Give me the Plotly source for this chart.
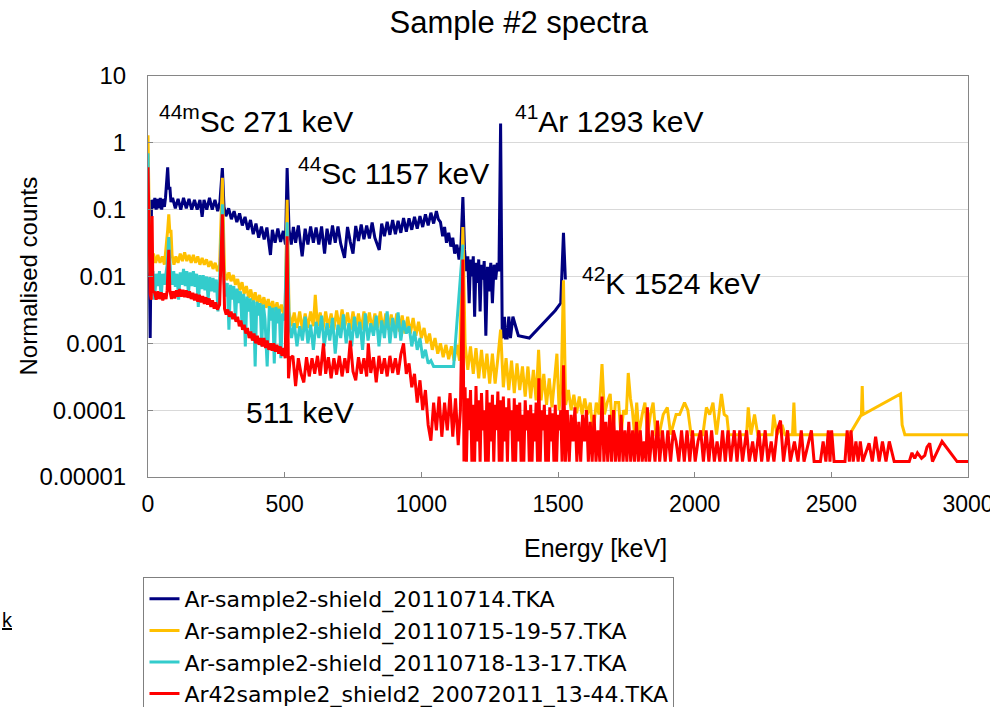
import plotly.graph_objects as go

# ---------------- data ----------------
series_names = [
    "Ar-sample2-shield_20110714.TKA",
    "Ar-sample2-shield_20110715-19-57.TKA",
    "Ar-sample2-shield_20110718-13-17.TKA",
    "Ar42sample2_shield2_20072011_13-44.TKA",
]
series_colors = ["#000080", "#FFC000", "#33CCCC", "#FF0000"]

navy_kev = [
    3, 8, 13, 20, 25, 30, 35, 40, 45, 50,
    55, 60, 64, 68, 72, 76, 80, 84, 90, 100,
    110, 120, 130, 140, 150, 160, 170, 180, 190, 198,
    205, 215, 225, 235, 245, 255, 263, 272, 278, 285,
    295, 305, 315, 325, 335, 345, 355, 365, 375, 385,
    395, 405, 415, 425, 435, 448, 455, 465, 475, 485,
    495, 503, 509, 516, 524, 532, 540, 550, 564, 575,
    585, 595, 605, 615, 625, 635, 646, 655, 665, 675,
    685, 695, 705, 719, 730, 740, 750, 760, 770, 780,
    790, 800, 810, 820, 830, 846, 855, 865, 875, 885,
    895, 905, 915, 925, 935, 945, 955, 965, 975, 985,
    995, 1005, 1015, 1025, 1035, 1045, 1055, 1062, 1070, 1078,
    1085, 1092, 1100, 1108, 1115, 1122, 1130, 1138, 1145, 1152,
    1158, 1164, 1170, 1175, 1180, 1185, 1190, 1195, 1200, 1205,
    1210, 1215, 1220, 1225, 1230, 1236, 1242, 1248, 1254, 1260,
    1266, 1272, 1278, 1284, 1290, 1296, 1300, 1304, 1308, 1314,
    1320, 1326, 1335, 1345, 1355, 1395, 1430, 1460, 1490, 1510,
    1520, 1527,
]
navy_val = [
    0.1, 0.0012, 0.14, 0.105, 0.15, 0.1, 0.145, 0.105, 0.15, 0.1,
    0.145, 0.11, 0.15, 0.3, 0.43, 0.2, 0.22, 0.13, 0.15, 0.105,
    0.145, 0.1, 0.15, 0.105, 0.145, 0.1, 0.14, 0.1, 0.14, 0.078,
    0.14, 0.1, 0.15, 0.1, 0.14, 0.095, 0.13, 0.42, 0.11, 0.08,
    0.105, 0.072, 0.095, 0.065, 0.088, 0.058, 0.078, 0.05, 0.07, 0.043,
    0.062, 0.038, 0.056, 0.036, 0.054, 0.021, 0.05, 0.032, 0.052, 0.033,
    0.048, 0.03, 0.42, 0.05, 0.03, 0.055, 0.032, 0.058, 0.02, 0.052,
    0.03, 0.056, 0.032, 0.054, 0.03, 0.056, 0.022, 0.052, 0.03, 0.058,
    0.032, 0.056, 0.031, 0.019, 0.055, 0.033, 0.022, 0.057, 0.034, 0.06,
    0.036, 0.058, 0.037, 0.064, 0.038, 0.025, 0.062, 0.04, 0.066, 0.042,
    0.07, 0.043, 0.068, 0.045, 0.075, 0.047, 0.074, 0.05, 0.078, 0.052,
    0.08, 0.055, 0.085, 0.058, 0.09, 0.062, 0.095, 0.072, 0.065, 0.04,
    0.055, 0.032, 0.045, 0.028, 0.038, 0.022, 0.03, 0.018, 0.03, 0.155,
    0.025, 0.012, 0.02, 0.004, 0.018, 0.01, 0.02, 0.0025, 0.016, 0.008,
    0.018, 0.003, 0.015, 0.009, 0.017, 0.0013, 0.014, 0.006, 0.016, 0.004,
    0.015, 0.009, 0.016, 0.012, 1.95, 0.0013, 0.0012, 0.0025, 0.0012, 0.0012,
    0.0025, 0.0012, 0.0025, 0.0018, 0.0013, 0.0012, 0.0017, 0.0023, 0.0031, 0.004,
    0.045, 0.009,
]

yellow_kev = [
    0, 6, 12, 20, 28, 36, 44, 52, 60, 68,
    72, 76, 80, 84, 88, 95, 102, 110, 118, 126,
    134, 142, 150, 158, 166, 174, 182, 190, 198, 206,
    214, 222, 230, 238, 246, 254, 262, 272, 280, 288,
    296, 304, 312, 320, 328, 336, 344, 352, 360, 368,
    376, 384, 392, 400, 408, 416, 424, 432, 440, 448,
    456, 464, 472, 480, 488, 496, 502, 509, 516, 525,
    535, 545, 555, 565, 575, 585, 595, 605, 612, 620,
    630, 640, 650, 660, 670, 680, 690, 700, 710, 720,
    730, 740, 750, 760, 770, 780, 790, 800, 810, 820,
    830, 840, 850, 860, 870, 880, 890, 900, 910, 920,
    930, 940, 950, 960, 970, 980, 990, 1000, 1010, 1020,
    1030, 1040, 1050, 1060, 1070, 1080, 1090, 1100, 1110, 1120,
    1130, 1140, 1152, 1160, 1170, 1180, 1190, 1200, 1210, 1220,
    1230, 1240, 1250, 1260, 1270, 1280, 1290, 1300, 1310, 1320,
    1330, 1340, 1350, 1360, 1370, 1380, 1390, 1400, 1410, 1420,
    1429, 1438, 1448, 1458, 1468, 1478, 1488, 1496, 1504, 1512,
    1520, 1528, 1538, 1548, 1558, 1568, 1578, 1588, 1598, 1608,
    1618, 1628, 1640, 1650, 1661, 1670, 1680, 1691, 1700, 1710,
    1722, 1730, 1740, 1750, 1757, 1765, 1772, 1780, 1788, 1796,
    1808, 1818, 1828, 1838, 1848, 1858, 1870, 1885, 1900, 1912,
    1932, 1945, 1963, 1975, 1987, 2010, 2030, 2043, 2055, 2067,
    2080, 2098, 2108, 2118, 2125, 2190, 2196, 2206, 2219, 2231,
    2283, 2289, 2301, 2320, 2330, 2358, 2363, 2368, 2566, 2610,
    2613, 2616, 2753, 2759, 2769, 3000,
]
yellow_val = [
    1.3, 0.03, 0.019, 0.022, 0.016, 0.021, 0.016, 0.02, 0.015, 0.03,
    0.05, 0.085, 0.045, 0.05, 0.021, 0.015, 0.02, 0.016, 0.022, 0.017,
    0.023, 0.017, 0.021, 0.016, 0.021, 0.016, 0.02, 0.015, 0.019, 0.015,
    0.018, 0.014, 0.017, 0.013, 0.016, 0.012, 0.015, 0.3, 0.012, 0.0088,
    0.0115, 0.0085, 0.0105, 0.0075, 0.0092, 0.0062, 0.0082, 0.0055, 0.0072, 0.0048,
    0.0064, 0.0043, 0.0058, 0.004, 0.0053, 0.0036, 0.0049, 0.0034, 0.0046, 0.0031,
    0.0043, 0.003, 0.0041, 0.0028, 0.0038, 0.0027, 0.0035, 0.14, 0.003, 0.0018,
    0.0029, 0.0017, 0.003, 0.0016, 0.0028, 0.0017, 0.003, 0.0018, 0.0053, 0.0018,
    0.0029, 0.0016, 0.003, 0.0017, 0.0028, 0.0016, 0.0031, 0.0017, 0.0032, 0.0018,
    0.0029, 0.0016, 0.003, 0.0017, 0.0028, 0.0016, 0.003, 0.0018, 0.0029, 0.0016,
    0.0028, 0.0017, 0.003, 0.0016, 0.0028, 0.0016, 0.0027, 0.0015, 0.0028, 0.0015,
    0.0026, 0.0014, 0.0025, 0.0014, 0.0024, 0.0013, 0.0021, 0.0012, 0.0017, 0.001,
    0.0014, 0.0008, 0.0012, 0.0007, 0.001, 0.00062, 0.00095, 0.00058, 0.0009, 0.00055,
    0.00095, 0.00055, 0.055, 0.001, 0.0004, 0.0009, 0.00035, 0.00085, 0.0003, 0.0008,
    0.0003, 0.0007, 0.00025, 0.0007, 0.00025, 0.0006, 0.0016, 0.00022, 0.0006, 0.0002,
    0.00055, 0.00018, 0.0005, 0.0002, 0.00045, 0.00016, 0.00045, 0.00015, 0.0004, 0.00014,
    0.0008, 0.00014, 0.00035, 0.00012, 0.0003, 0.00011, 0.00028, 0.0007, 0.0001, 0.00025,
    0.0088, 0.00012, 0.0002, 0.0001, 0.00017, 0.00009, 0.00016, 0.000086, 0.00015, 0.000086,
    0.00013, 0.000043, 0.00013, 0.000086, 0.00049, 0.000086, 0.00013, 0.000175, 0.000043, 0.00013,
    0.00013, 0.000043, 0.0001, 0.000086, 0.00036, 0.00015, 0.0001, 0.000043, 0.00013, 0.000043,
    0.000086, 0.00013, 0.000043, 0.000086, 0.00013, 0.000043, 0.000043, 0.000086, 0.00011, 0.000043,
    0.000086, 0.000086, 0.00013, 0.0001, 0.000043, 0.000043, 0.000043, 0.00011, 0.000086, 0.00013,
    0.000043, 0.000175, 0.000086, 0.00008, 0.000043, 0.000043, 0.00011, 0.000043, 0.000086, 0.000043,
    0.000043, 0.000086, 0.000043, 0.00006, 0.000043, 0.000043, 0.00013, 0.000043, 0.000043, 0.000086,
    0.00023, 0.000086, 0.000175, 0.00006, 0.000043, 0.000043,
]

cyan_kev = [
    0, 6, 12, 18, 24, 30, 36, 42, 48, 54,
    60, 66, 70, 76, 82, 88, 94, 100, 106, 112,
    118, 124, 130, 136, 142, 148, 154, 160, 166, 172,
    178, 184, 190, 196, 202, 208, 214, 220, 226, 232,
    238, 244, 250, 256, 262, 272, 278, 284, 290, 296,
    302, 308, 314, 320, 326, 332, 338, 344, 350, 356,
    362, 368, 374, 380, 386, 392, 398, 404, 410, 416,
    422, 428, 436, 444, 450, 456, 462, 468, 474, 480,
    486, 492, 500, 509, 516, 525, 535, 545, 555, 565,
    575, 585, 595, 605, 615, 625, 635, 645, 655, 665,
    675, 685, 695, 705, 715, 725, 735, 745, 755, 765,
    775, 785, 795, 805, 815, 825, 835, 845, 855, 865,
    875, 885, 895, 905, 915, 925, 935, 945, 955, 965,
    975, 985, 995, 1005, 1015, 1025, 1035, 1045, 1118, 1152,
]
cyan_val = [
    0.7, 0.012, 0.0075, 0.012, 0.0045, 0.011, 0.0072, 0.012, 0.0048, 0.011,
    0.0075, 0.012, 0.015, 0.039, 0.012, 0.0075, 0.012, 0.007, 0.011, 0.0045,
    0.0115, 0.0075, 0.013, 0.0072, 0.012, 0.0055, 0.0115, 0.0072, 0.012, 0.007,
    0.011, 0.0035, 0.0105, 0.0065, 0.0105, 0.0062, 0.01, 0.0045, 0.0098, 0.006,
    0.0095, 0.0058, 0.009, 0.003, 0.0085, 0.12, 0.0085, 0.005, 0.008, 0.0016,
    0.0075, 0.0045, 0.0072, 0.0022, 0.0066, 0.004, 0.006, 0.0018, 0.0055, 0.0009,
    0.005, 0.003, 0.0047, 0.0012, 0.0044, 0.00045, 0.0042, 0.0026, 0.004, 0.0009,
    0.0038, 0.0023, 0.00045, 0.0036, 0.0022, 0.0034, 0.0005, 0.0035, 0.002, 0.0033,
    0.0006, 0.0028, 0.0022, 0.065, 0.0022, 0.0012, 0.002, 0.0009, 0.0018, 0.0011,
    0.0025, 0.001, 0.0019, 0.0008, 0.0021, 0.0012, 0.0026, 0.0009, 0.002, 0.0011,
    0.0024, 0.0007, 0.0019, 0.0012, 0.0027, 0.001, 0.002, 0.0009, 0.0025, 0.0012,
    0.0021, 0.0008, 0.0028, 0.0011, 0.002, 0.0013, 0.0026, 0.0009, 0.0022, 0.0012,
    0.003, 0.001, 0.0024, 0.0012, 0.0029, 0.0011, 0.0022, 0.0014, 0.0018, 0.0009,
    0.0015, 0.0008, 0.0012, 0.0006, 0.0008, 0.0005, 0.00055, 0.00045, 0.00045, 0.03,
]

red_kev = [
    0, 4, 8, 12, 15, 18, 24, 30, 36, 42,
    48, 54, 60, 66, 70, 76, 80, 86, 92, 98,
    104, 110, 116, 122, 128, 134, 140, 146, 152, 158,
    164, 170, 176, 182, 188, 194, 200, 206, 212, 218,
    224, 230, 236, 242, 248, 254, 262, 272, 280, 286,
    292, 298, 304, 310, 316, 322, 328, 334, 340, 346,
    352, 358, 364, 370, 376, 382, 388, 394, 400, 406,
    412, 418, 424, 430, 436, 442, 448, 454, 460, 466,
    472, 478, 484, 490, 496, 502, 509, 514, 520, 530,
    540, 550, 560, 570, 580, 590, 600, 610, 620, 630,
    642, 650, 660, 670, 680, 690, 700, 710, 720, 730,
    740, 750, 760, 770, 780, 790, 800, 806, 815, 825,
    835, 845, 855, 865, 875, 885, 895, 905, 915, 925,
    935, 945, 955, 965, 975, 985, 995, 1005, 1015, 1025,
    1035, 1045, 1055, 1065, 1075, 1085, 1095, 1105, 1115, 1125,
    1135, 1143, 1152, 1156, 1160, 1165, 1170, 1175, 1180, 1185,
    1190, 1195, 1200, 1205, 1210, 1215, 1220, 1225, 1230, 1235,
    1240, 1245, 1250, 1255, 1260, 1265, 1270, 1275, 1280, 1285,
    1290, 1295, 1300, 1305, 1310, 1315, 1320, 1325, 1330, 1335,
    1340, 1345, 1350, 1355, 1360, 1365, 1370, 1375, 1380, 1385,
    1390, 1395, 1400, 1405, 1410, 1415, 1420, 1425, 1430, 1435,
    1440, 1445, 1450, 1455, 1460, 1465, 1470, 1475, 1480, 1485,
    1490, 1495, 1500, 1505, 1510, 1515, 1520, 1527, 1534, 1541,
    1548, 1555, 1562, 1569, 1576, 1583, 1590, 1597, 1604, 1611,
    1618, 1625, 1632, 1639, 1646, 1653, 1661, 1668, 1675, 1682,
    1689, 1696, 1703, 1710, 1717, 1724, 1731, 1738, 1745, 1752,
    1759, 1766, 1773, 1780, 1787, 1794, 1801, 1808, 1815, 1822,
    1827, 1835, 1845, 1855, 1864, 1872, 1882, 1892, 1902, 1912,
    1922, 1932, 1942, 1952, 1962, 1972, 1982, 1992, 2002, 2012,
    2022, 2032, 2042, 2052, 2062, 2072, 2082, 2092, 2102, 2112,
    2122, 2132, 2145, 2155, 2165, 2175, 2190, 2200, 2212, 2222,
    2235, 2245, 2258, 2268, 2280, 2290, 2302, 2314, 2325, 2340,
    2350, 2365, 2378, 2390, 2400, 2427, 2437, 2460, 2470, 2480,
    2489, 2495, 2501, 2510, 2550, 2558, 2566, 2572, 2580, 2590,
    2598, 2606, 2615, 2638, 2650, 2662, 2675, 2687, 2700, 2712,
    2730, 2785, 2795, 2805, 2815, 2830, 2842, 2850, 2860, 2870,
    2905, 2960, 3000,
]
red_val = [
    0.43, 0.07, 0.0055, 0.0045, 0.08, 0.006, 0.0058, 0.0045, 0.006, 0.0046,
    0.0058, 0.0044, 0.0056, 0.0046, 0.0062, 0.025, 0.0062, 0.0046, 0.006, 0.0047,
    0.0062, 0.005, 0.0065, 0.005, 0.0063, 0.0049, 0.0062, 0.0048, 0.006, 0.0046,
    0.0057, 0.0044, 0.0055, 0.0042, 0.0053, 0.0041, 0.0051, 0.0039, 0.0049, 0.0038,
    0.0047, 0.0035, 0.0044, 0.0033, 0.0041, 0.0032, 0.0038, 0.085, 0.0033, 0.0027,
    0.0032, 0.0025, 0.003, 0.0023, 0.0028, 0.0021, 0.0025, 0.0018, 0.0022, 0.0016,
    0.0019, 0.0014, 0.0017, 0.0012, 0.0015, 0.0011, 0.0014, 0.001, 0.0013, 0.00095,
    0.0012, 0.0009, 0.0012, 0.00085, 0.0011, 0.0008, 0.001, 0.00078, 0.001, 0.00075,
    0.00095, 0.0007, 0.0009, 0.00065, 0.00085, 0.0006, 0.04, 0.0003, 0.0006, 0.00065,
    0.00023, 0.0006, 0.00035, 0.00026, 0.00062, 0.00032, 0.0006, 0.00035, 0.00065, 0.00033,
    0.001, 0.00035, 0.00062, 0.0003, 0.0006, 0.00034, 0.00065, 0.00032, 0.0006, 0.00036,
    0.0011, 0.00038, 0.00028, 0.00062, 0.00035, 0.0006, 0.00032, 0.001, 0.00036, 0.00062,
    0.00026, 0.00065, 0.00035, 0.0006, 0.00032, 0.00065, 0.00036, 0.0006, 0.00034, 0.00068,
    0.001, 0.00035, 0.0005, 0.00022, 0.00035, 0.00013, 0.00028, 0.0001, 0.0002, 0.00006,
    0.000035, 0.00013, 0.00005, 0.00016, 0.00004, 0.00013, 0.00005, 0.00018, 0.00004, 0.00015,
    0.00003, 0.0001, 0.018, 0.000017, 0.00022, 0.000017, 0.00015, 0.00005, 0.0002, 0.000017,
    0.00012, 0.000017, 0.00023, 0.000034, 0.00014, 0.000017, 0.00018, 0.00005, 0.0001, 0.000017,
    0.0002, 0.000017, 0.00013, 0.000034, 0.00017, 0.000017, 0.00012, 0.00005, 0.00019, 0.000017,
    0.00014, 0.000017, 0.00016, 0.000034, 0.00011, 0.000017, 0.00015, 0.00005, 0.0001, 0.000017,
    0.00015, 0.000017, 0.00012, 0.000034, 0.00013, 0.000017, 0.000085, 0.000017, 0.00014, 0.00005,
    0.0001, 0.000017, 0.00012, 0.000017, 0.00009, 0.000034, 0.00013, 0.000017, 0.0003, 0.000017,
    0.0001, 0.00005, 0.00012, 0.000017, 0.000085, 0.000017, 0.00011, 0.000034, 0.00009, 0.000017,
    0.00012, 0.000017, 0.000085, 0.00005, 0.0001, 0.000017, 0.00047, 0.000017, 0.0001, 0.000017,
    0.000085, 0.000034, 0.00011, 0.000017, 0.000067, 0.000017, 0.000085, 0.000034, 0.0001, 0.000017,
    0.000067, 0.000017, 0.000085, 0.000017, 0.00005, 0.000017, 0.00016, 0.000017, 0.000067, 0.000017,
    0.000085, 0.000017, 0.0001, 0.000017, 0.00005, 0.000017, 0.000085, 0.000017, 0.00005, 0.000017,
    0.000067, 0.000017, 0.00005, 0.000017, 0.000067, 0.000017, 0.00005, 0.000017, 0.000034, 0.000017,
    0.00011, 0.000017, 0.00005, 0.000017, 0.00007, 0.000017, 0.00005, 0.000017, 0.00005, 0.000017,
    0.00005, 0.000034, 0.000017, 0.00005, 0.000017, 0.00005, 0.000017, 0.00005, 0.000017, 0.000034,
    0.00005, 0.000017, 0.00005, 0.000017, 0.00005, 0.000017, 0.000034, 0.000017, 0.00005, 0.000017,
    0.00005, 0.000017, 0.00005, 0.000017, 0.00005, 0.000017, 0.00005, 0.000017, 0.000034, 0.000017,
    0.00005, 0.000017, 0.00005, 0.000017, 0.000034, 0.000017, 0.00005, 0.00007, 0.000017, 0.00005,
    0.000017, 0.000034, 0.000017, 0.00005, 0.000017, 0.00005, 0.000017, 0.000017, 0.000034, 0.000017,
    0.00005, 0.000017, 0.00005, 0.000017, 0.000017, 0.00005, 0.000017, 0.00005, 0.000017, 0.000034,
    0.000017, 0.000034, 0.000017, 0.000032, 0.000017, 0.00004, 0.000017, 0.000034, 0.000017, 0.000034,
    0.000017, 0.000017, 0.000023, 0.000019, 0.000023, 0.000019, 0.000021, 0.000028, 0.000032, 0.000017,
    0.000034, 0.000017, 0.000017,
]

x_tick_vals = [0, 500, 1000, 1500, 2000, 2500, 3000]
y_tick_vals = [0.00001, 0.0001, 0.001, 0.01, 0.1, 1, 10]
y_tick_text = ["0.00001", "0.0001", "0.001", "0.01", "0.1", "1", "10"]

# peak labels: (text, energy of left edge, log10 of vertical centre)
label_texts = ["<sup>44m</sup>Sc 271 keV", "<sup>44</sup>Sc 1157 keV",
               "<sup>41</sup>Ar 1293 keV", "<sup>42</sup>K 1524 keV", "511 keV"]
label_kev = [33, 540, 1337, 1581, 350]
label_logy = [0.36, -0.42, 0.36, -2.07, -4.04]

for a, b in [(navy_kev, navy_val), (yellow_kev, yellow_val),
             (cyan_kev, cyan_val), (red_kev, red_val)]:
    assert len(a) == len(b), (len(a), len(b))

# ---------------- figure ----------------
FONT = "Liberation Sans, Arial, Helvetica, sans-serif"
LEGEND_FONT = "DejaVu Sans, Liberation Sans, Arial, sans-serif"
fig = go.Figure()
all_x = [navy_kev, yellow_kev, cyan_kev, red_kev]
all_y = [navy_val, yellow_val, cyan_val, red_val]
for name, color, xs, ys in zip(series_names, series_colors, all_x, all_y):
    fig.add_trace(go.Scatter(
        x=xs, y=ys, mode="lines", name=name, legendgroup=name,
        line=dict(color=color, width=3), connectgaps=True,
    ))

axis_grey = "#868686"
fig.update_layout(
    width=990, height=707, autosize=False,
    margin=dict(l=148, r=22, t=76, b=230, autoexpand=False),
    paper_bgcolor="white", plot_bgcolor="white",
    font=dict(family=FONT, color="black"),
    title=dict(text="Sample #2 spectra", x=0.524, xref="container", xanchor="center",
               y=1 - 22 / 707, yref="container", yanchor="middle",
               font=dict(size=31, family=FONT, color="black")),
    xaxis=dict(range=[0, 3000], tickmode="array", tickvals=x_tick_vals,
               ticks="inside", ticklen=5, tickcolor=axis_grey, tickwidth=1,
               showline=True, linecolor=axis_grey, linewidth=1, mirror=True,
               showgrid=False, zeroline=False, tickfont=dict(size=23),
               ticklabelstandoff=6, ticklabeloverflow="allow"),
    yaxis=dict(type="log", range=[-5, 1], tickmode="array", tickvals=y_tick_vals,
               ticktext=y_tick_text, ticks="inside", ticklen=5, tickcolor=axis_grey,
               tickwidth=1, showline=True, linecolor=axis_grey, linewidth=1, mirror=True,
               showgrid=True, gridcolor="#d9d9d9", gridwidth=1, zeroline=False,
               tickfont=dict(size=24), ticklabelstandoff=16),
    legend=dict(x=-0.0055, y=(477 - 577) / 401, xanchor="left", yanchor="top",
                bordercolor="#7f7f7f", borderwidth=1, bgcolor="white",
                font=dict(size=22, family=LEGEND_FONT, color="black"),
                tracegroupgap=0, traceorder="normal"),
    showlegend=True,
)

for t, xk, yl in zip(label_texts, label_kev, label_logy):
    fig.add_annotation(text=t, x=xk, y=yl, xref="x", yref="y", xanchor="left",
                       yanchor="middle", showarrow=False,
                       font=dict(size=30, family=FONT, color="black"))

fig.add_annotation(text="Normalised counts", textangle=-90, x=(28 - 148) / 820,
                   y=0.5, xref="paper", yref="paper", xanchor="center", yanchor="middle",
                   showarrow=False, font=dict(size=24, family=FONT, color="black"))
fig.add_annotation(text="Energy [keV]", x=(595 - 148) / 820, y=(477 - 548) / 401,
                   xref="paper", yref="paper", xanchor="center", yanchor="middle",
                   showarrow=False, font=dict(size=25, family=FONT, color="black"))
fig.add_annotation(text="<u>k</u>", x=(7 - 148) / 820, y=(477 - 620) / 401,
                   xref="paper", yref="paper", xanchor="center", yanchor="middle",
                   showarrow=False, font=dict(size=20, family=FONT, color="black"))

fig.write_html("out.html")
